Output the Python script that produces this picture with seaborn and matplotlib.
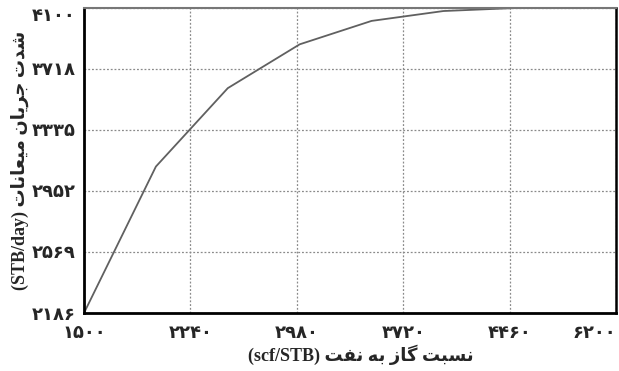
import matplotlib
matplotlib.use("Agg")
import matplotlib.pyplot as plt
import seaborn as sns
import pandas as pd

# ---- data ----
gor = [1500, 2000, 2500, 3000, 3500, 4000, 4500, 5200]
rate = [2186, 3105, 3597, 3872, 4019, 4081, 4100, 4100]
x_ticks = [1500, 2240, 2980, 3720, 4460, 5200]
x_tick_labels = ["۱۵۰۰", "۲۲۴۰", "۲۹۸۰", "۳۷۲۰", "۴۴۶۰", "۶۲۰۰"]
y_ticks = [2186, 2569, 2952, 3335, 3718, 4100]
y_tick_labels = ["۲۱۸۶", "۲۵۶۹", "۲۹۵۲", "۳۳۳۵", "۳۷۱۸", "۴۱۰۰"]
x_label_fa = "نسبت گاز به نفت"
x_label_unit = "(scf/STB)"
y_label_fa = "شدت جریان میعانات"
y_label_unit = "(STB/day)"

# ---- minimal Persian shaping (presentation forms, visual order) ----
FORMS = {  # isolated, final, initial, medial
    "ا": ("\uFE8D", "\uFE8E", None, None),
    "ب": ("\uFE8F", "\uFE90", "\uFE91", "\uFE92"),
    "ت": ("\uFE95", "\uFE96", "\uFE97", "\uFE98"),
    "ج": ("\uFE9D", "\uFE9E", "\uFE9F", "\uFEA0"),
    "د": ("\uFEA9", "\uFEAA", None, None),
    "ر": ("\uFEAD", "\uFEAE", None, None),
    "ز": ("\uFEAF", "\uFEB0", None, None),
    "س": ("\uFEB1", "\uFEB2", "\uFEB3", "\uFEB4"),
    "ش": ("\uFEB5", "\uFEB6", "\uFEB7", "\uFEB8"),
    "ع": ("\uFEC9", "\uFECA", "\uFECB", "\uFECC"),
    "ف": ("\uFED1", "\uFED2", "\uFED3", "\uFED4"),
    "م": ("\uFEE1", "\uFEE2", "\uFEE3", "\uFEE4"),
    "ن": ("\uFEE5", "\uFEE6", "\uFEE7", "\uFEE8"),
    "ه": ("\uFEE9", "\uFEEA", "\uFEEB", "\uFEEC"),
    "ی": ("\uFBFC", "\uFBFD", "\uFBFE", "\uFBFF"),
    "گ": ("\uFB92", "\uFB93", "\uFB94", "\uFB95"),
}


def shape(text):
    out = []
    n = len(text)
    for i, ch in enumerate(text):
        if ch not in FORMS:
            out.append(ch)
            continue
        prev = text[i - 1] if i > 0 else " "
        nxt = text[i + 1] if i < n - 1 else " "
        joins_prev = prev in FORMS and FORMS[prev][2] is not None
        joins_next = nxt in FORMS and FORMS[ch][2] is not None
        iso, fin, ini, med = FORMS[ch]
        if joins_prev and joins_next:
            out.append(med)
        elif joins_prev:
            out.append(fin)
        elif joins_next:
            out.append(ini)
        else:
            out.append(iso)
    return "".join(out)[::-1]


df = pd.DataFrame({"gor": gor, "rate": rate})

sns.set_theme(style="white")
fams = ["Liberation Serif", "DejaVu Sans"]
plt.rcParams["font.family"] = fams

fig = plt.figure(figsize=(6.19, 3.71), dpi=100)
ax = fig.add_axes([84 / 619, 1 - 313 / 371, (616 - 84) / 619, (313 - 8) / 371])

sns.lineplot(data=df, x="gor", y="rate", ax=ax, color="#606060", linewidth=1.3)

ax.set_xlim(1500, 5200)
ax.set_ylim(2186, 4100)
ax.set_xticks(x_ticks)
ax.set_xticklabels(x_tick_labels, fontweight="bold", fontsize=13)
ax.set_yticks(y_ticks)
ax.set_yticklabels(y_tick_labels, fontweight="bold", fontsize=13)
ax.tick_params(axis="x", length=0, pad=9)
ax.tick_params(axis="y", length=0, pad=6)
ax.get_xticklabels()[-1].set_horizontalalignment("right")
ax.get_yticklabels()[-1].set_verticalalignment("top")

ax.grid(True, linestyle=(0, (1.5, 1.5)), color="#8a8a8a", linewidth=0.9)

for side in ["left", "bottom"]:
    ax.spines[side].set_color("black")
    ax.spines[side].set_linewidth(2)
ax.spines["right"].set_color("black")
ax.spines["right"].set_linewidth(1.8)
ax.spines["top"].set_color("#777777")
ax.spines["top"].set_linewidth(1.5)

ax.set_xlabel(x_label_unit + " " + shape(x_label_fa), fontweight="bold", fontsize=13)
ax.set_ylabel(y_label_unit + " " + shape(y_label_fa), fontweight="bold", fontsize=13)
ax.xaxis.set_label_coords(0.52, -0.105)
ax.yaxis.set_label_coords(-0.103, 0.5)

fig.savefig("out.png", dpi=100)
